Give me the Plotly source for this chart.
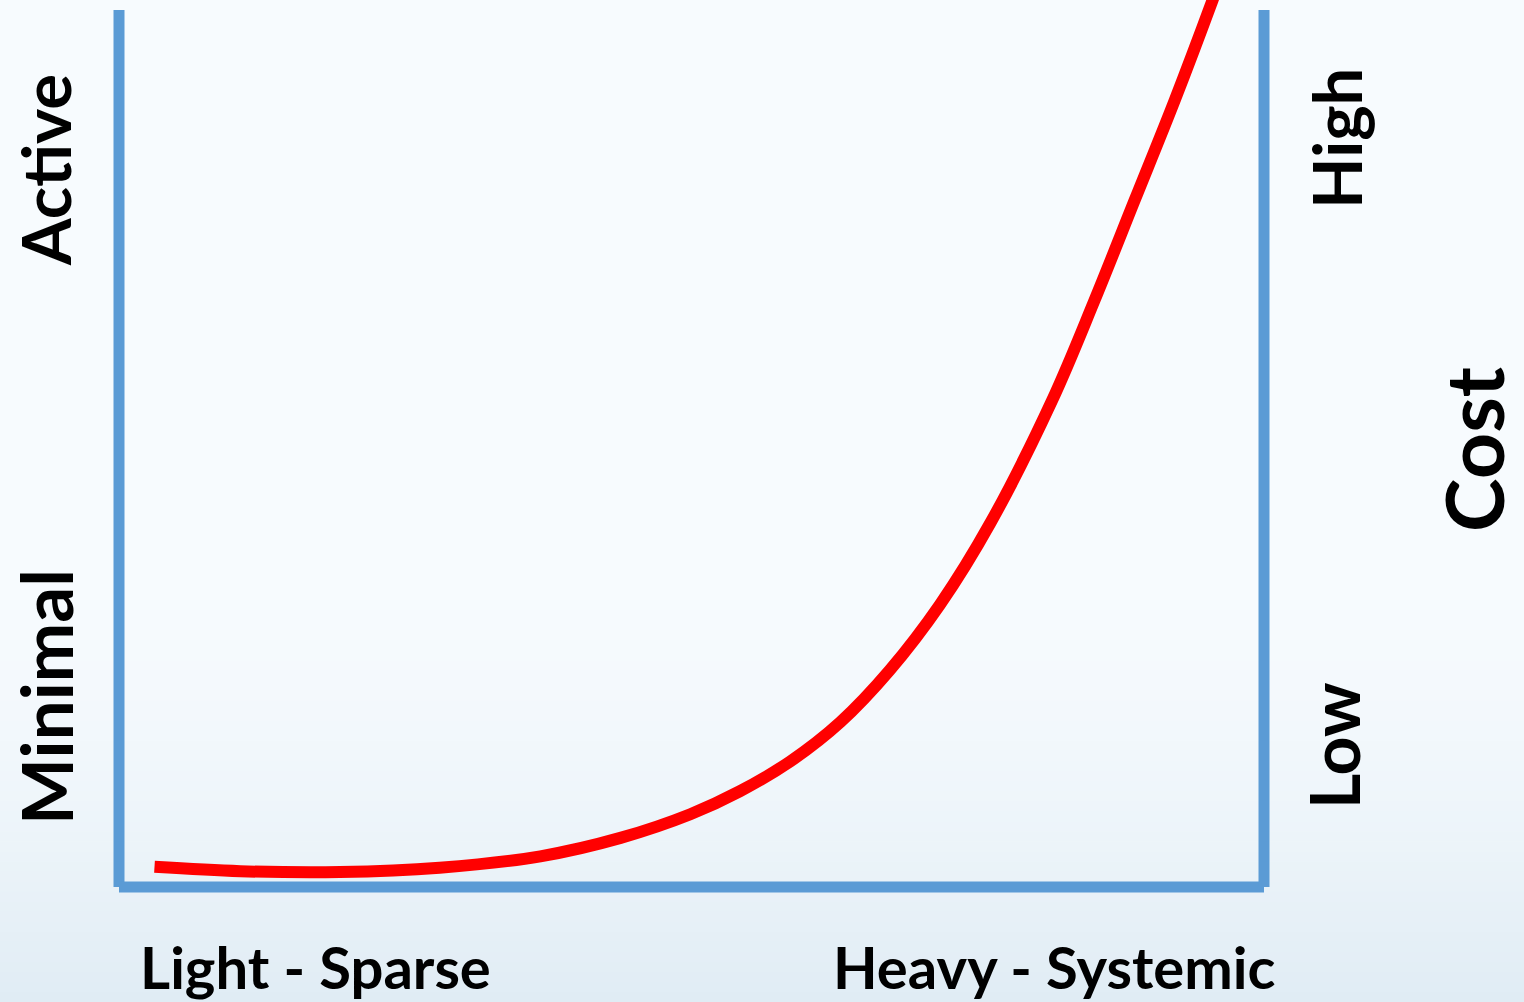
import plotly.graph_objects as go

# ---- data (arbitrary 0-100 units) ----
effort = [3.1, 10.6, 19.3, 28.0, 36.8, 43.8, 49.9, 54.2, 58.6, 63.0, 67.3,
          71.7, 76.1, 81.5, 85.2, 88.7, 92.2, 95.5, 96.6]
cost = [2.3, 1.8, 1.7, 2.2, 3.5, 5.6, 8.3, 10.9, 14.3, 18.8, 24.7,
        32.2, 41.5, 55.5, 66.9, 78.3, 89.7, 101.1, 105.1]

x_labels = ["Light - Sparse", "Heavy - Systemic"]
left_labels = ["Active", "Minimal"]
right_labels = ["High", "Low"]
right_title = "Cost"

# ---- geometry (pixels of 1524x1002 canvas) ----
W, H = 1524, 1002
L, R, T, B = 60, 200, 0, 60
PW, PH = W - L - R, H - T - B
X0PX, X100PX = 119, 1264     # pixel of x=0 and x=100
Y0PX, Y100PX = 887, 10       # pixel of y=0 and y=100
sx = (X100PX - X0PX) / 100.0
sy = (Y0PX - Y100PX) / 100.0
xr = [(L - X0PX) / sx, (L + PW - X0PX) / sx]
yr = [(Y0PX - (T + PH)) / sy, (Y0PX - T) / sy]


def px(xp):
    return (xp - L) / PW


def py(yp):
    return (T + PH - yp) / PH


FONT = "Lato"
fig = go.Figure()

fig.add_trace(go.Scatter(
    x=effort, y=cost, mode="lines",
    line=dict(color="#FF0000", width=12, shape="spline", smoothing=1.0),
    hoverinfo="skip", showlegend=False))

shapes = []
# background gradient
top_c = (247, 251, 254)
bot_c = (224, 236, 244)
start, n = 560, 44
step = (H - start) / n
shapes.append(dict(type="rect", xref="paper", yref="paper",
                   x0=px(0), x1=px(W), y0=py(start), y1=py(0),
                   fillcolor="rgb(%d,%d,%d)" % top_c, line=dict(width=0),
                   layer="below"))
for i in range(n):
    t = ((i + 0.5) / n) ** 1.6
    c = tuple(round(top_c[k] + (bot_c[k] - top_c[k]) * t) for k in range(3))
    shapes.append(dict(type="rect", xref="paper", yref="paper",
                       x0=px(0), x1=px(W),
                       y0=py(start + (i + 1) * step + 0.5), y1=py(start + i * step),
                       fillcolor="rgb(%d,%d,%d)" % c, line=dict(width=0),
                       layer="below"))

# frame lines
blue = "#5B9BD5"
shapes += [
    dict(type="line", xref="x", yref="y", x0=0, x1=0, y0=0, y1=100,
         line=dict(color=blue, width=11), layer="below"),
    dict(type="line", xref="x", yref="y", x0=0, x1=100, y0=0, y1=0,
         line=dict(color=blue, width=11), layer="below"),
    dict(type="line", xref="x", yref="y", x0=100, x1=100, y0=0, y1=100,
         line=dict(color=blue, width=11), layer="below"),
]

ann = []


def add(text, xpx, ypx, size, angle=0):
    ann.append(dict(text="<b>%s</b>" % text, xref="paper", yref="paper",
                    x=px(xpx), y=py(ypx), xanchor="center", yanchor="middle",
                    showarrow=False, textangle=angle,
                    font=dict(family=FONT, size=size, color="#000000")))


add(left_labels[0], 45, 170, 67, -90)
add(left_labels[1], 45, 697, 71, -90)
add(right_labels[0], 1336, 139, 67, -90)
add(right_labels[1], 1333, 746, 68, -90)
add(right_title, 1472, 450, 81, -90)
add(x_labels[0], 315, 966, 58)
add(x_labels[1], 1054, 966, 58)

fig.update_layout(
    width=W, height=H,
    margin=dict(l=L, r=R, t=T, b=B, pad=0),
    paper_bgcolor="rgb(247,251,254)",
    plot_bgcolor="rgba(0,0,0,0)",
    xaxis=dict(range=xr, visible=False, fixedrange=True),
    yaxis=dict(range=yr, visible=False, fixedrange=True),
    shapes=shapes, annotations=ann, showlegend=False)

fig.write_html("out.html", config={"displayModeBar": False},
               post_script="document.body.style.margin='0';document.body.style.overflow='hidden';")
